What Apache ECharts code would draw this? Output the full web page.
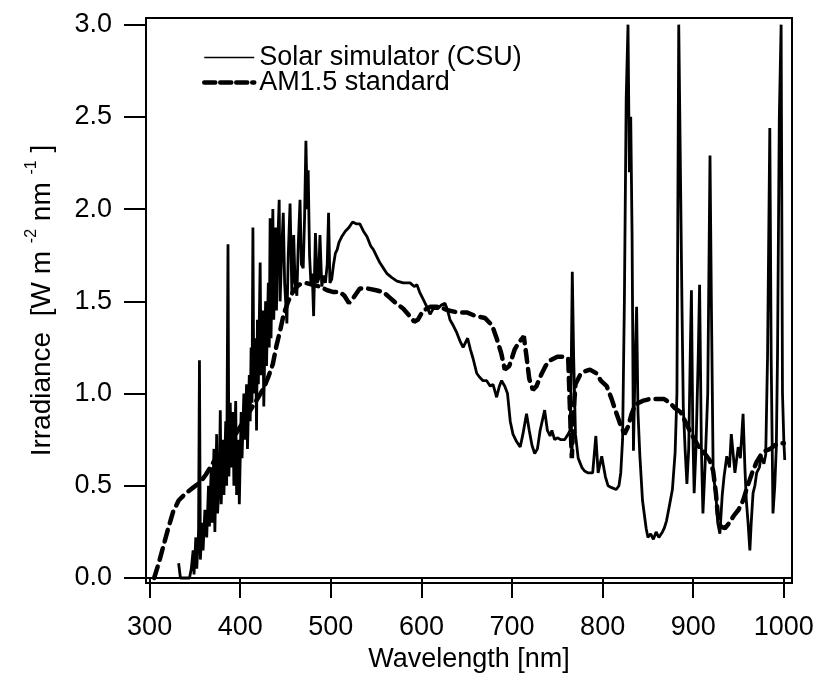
<!DOCTYPE html>
<html>
<head>
<meta charset="utf-8">
<script src="https://cdn.jsdelivr.net/npm/echarts@6/dist/echarts.min.js"></script>
<style>
html,body{margin:0;padding:0;background:#fff;}
#chart{width:817px;height:687px;}
</style>
</head>
<body>
<div id="chart"></div>
<script>
// CSU solar simulator spectrum
var csuWl = [332,334,336,340,344,346,348,349,351,352,354,355,356,358,359,361,363,365,366,368,369,371,372,374,375,377,378,379,381,382,384,385,386.5,387.5,389,390,392,393,395,396,398,399,401,402,404,405,407,408,410,411,412,413,414,415,417,418,419,420,422,423,425,426,428,429,431,432,433,434,436,437,439,440,441,443,444,446,447.5,449,451.5,453,455,457,459,460.5,462.5,464,466,467.5,469.5,471,472.5,474,475,476.5,478,479.5,481,483,485,486.5,488,490,492,494,496,497.5,499,501,503,505,507,509,512,516,520,524,528,532,536,540,544,547,551,554,558,562,567,573,580,587.5,592,595,598,602,606,609.5,613,618,622,626,629,631.5,635,639,643,646,651,654,657,661,664,668,672,676,679,683,686,688.5,692,695,698,701,705,709,712,716,719,722,725,728,731,736,739,742,744,747,750,754,758,762,764,765,766.5,768,770,773,777,780,784,789,792.5,795,799,803,806,810,815,818,820,822,824,826,828,829.5,831,832.5,834,836,837.5,839,841,844,848,850,853,856,859,862,866,868,870.5,874,877,880,882,884,886,887.5,889,891,893,895,897,898,899.5,901,903,905.5,907,909,910.7,913,916,918.5,920,922,925,927,929.4,932,934,937,940,942,946,949.6,952,955,957,958.6,960.5,962.5,964,966,968,970,973,975,978,980,982,984.5,986,988,990,991.7,993,995,997,998.5,1000,1001];
var csuIrr = [0.08,0.0,0.0,0.0,0.0,0.05,0.15,0.02,0.22,0.05,0.25,1.18,0.1,0.3,0.15,0.37,0.22,0.5,0.28,0.6,0.3,0.7,0.25,0.78,0.35,0.55,0.91,0.4,0.75,0.45,0.85,0.5,1.81,0.55,0.95,0.6,0.9,0.5,0.96,0.45,0.75,0.4,0.9,0.65,1.0,0.75,1.05,0.7,1.1,0.85,1.25,0.95,1.9,1.0,1.3,0.8,1.4,1.05,1.71,1.1,1.45,0.93,1.5,1.15,1.6,1.25,1.95,1.3,2.0,1.4,1.9,1.45,1.75,2.05,1.5,1.8,1.98,1.6,1.38,1.75,2.03,1.55,1.86,1.6,1.53,1.8,2.05,1.7,1.68,1.95,2.37,2.0,2.21,1.75,1.6,1.65,1.42,1.87,1.6,1.62,1.86,1.58,1.64,1.6,1.7,1.98,1.6,1.62,1.7,1.76,1.78,1.82,1.85,1.88,1.9,1.93,1.92,1.92,1.88,1.85,1.8,1.78,1.74,1.71,1.68,1.65,1.63,1.61,1.6,1.6,1.58,1.59,1.55,1.51,1.47,1.43,1.46,1.46,1.48,1.49,1.45,1.4,1.37,1.33,1.28,1.25,1.3,1.24,1.19,1.11,1.09,1.07,1.07,1.04,1.05,0.98,1.04,1.07,1.04,1.0,0.85,0.78,0.74,0.71,0.78,0.89,0.8,0.72,0.675,0.7,0.8,0.91,0.8,0.77,0.8,0.75,0.76,0.75,0.75,0.78,0.8,1.0,1.66,1.2,0.78,0.65,0.6,0.58,0.57,0.57,0.77,0.57,0.66,0.55,0.5,0.49,0.48,0.5,0.57,0.75,1.5,2.6,3.0,2.2,2.5,1.85,0.69,1.2,1.47,0.9,0.67,0.42,0.27,0.22,0.24,0.21,0.25,0.22,0.25,0.27,0.31,0.4,0.48,0.68,1.0,3.0,3.0,1.5,0.93,0.7,0.51,0.7,1.3,1.56,0.8,0.46,0.7,1.2,1.59,0.7,0.35,0.6,1.0,2.29,1.5,0.57,0.45,0.3,0.24,0.45,0.55,0.66,0.6,0.78,0.57,0.71,0.65,0.89,0.6,0.42,0.3,0.15,0.3,0.46,0.5,0.57,0.6,0.66,0.62,0.67,1.2,2.44,1.2,0.35,0.5,0.71,1.2,2.5,3.0,1.0,0.74,0.64];

// AM1.5 standard spectrum
var amWl = [305,310,315,320,326,332,340,348,356,362,367,372,380,390,400,410,420,426,431,436,440,444,448,453,459,465,472,480,488,496,503,510,515,520,525,532,540,550,558,565,572,580,587,592,596,602,610,620,630,640,650,660,670,678,683,688,692,697,703,708,713,716,719,723,727,732,737,742,750,757,762,764,766,768,770,775,780,786,793,798,804.5,810,814,819,824,828,832,836,844,852,860,868,874,880,886,892,898,905,912,918,922,925,927,930,935,940,945,950,955,960,965,970,975,980,985,990,995,1000];
var amIrr = [0.0,0.08,0.17,0.26,0.36,0.42,0.46,0.49,0.52,0.56,0.6,0.64,0.68,0.74,0.82,0.9,0.98,1.03,1.09,1.16,1.26,1.34,1.43,1.5,1.56,1.59,1.6,1.59,1.58,1.56,1.55,1.55,1.53,1.49,1.52,1.57,1.57,1.56,1.55,1.52,1.49,1.46,1.42,1.39,1.4,1.45,1.47,1.47,1.45,1.44,1.44,1.42,1.41,1.37,1.3,1.22,1.13,1.15,1.24,1.28,1.31,1.2,1.08,1.02,1.04,1.1,1.15,1.18,1.2,1.2,1.19,0.9,0.65,0.9,1.05,1.1,1.12,1.13,1.11,1.07,1.04,0.97,0.91,0.84,0.78,0.82,0.89,0.94,0.96,0.97,0.97,0.97,0.95,0.92,0.9,0.84,0.78,0.72,0.68,0.64,0.58,0.46,0.35,0.28,0.27,0.3,0.34,0.37,0.42,0.5,0.57,0.63,0.67,0.69,0.7,0.72,0.73,0.73];

var xTicks = [300,400,500,600,700,800,900,1000];
var yTicks = [0,0.5,1.0,1.5,2.0,2.5,3.0];

function toPairs(xs, ys){
	var out = [];
	for (var i = 0; i < xs.length; i++) {
		out.push([xs[i], ys[i]]);
	}
	return out;
}

var FONT = "'Liberation Sans', Arial, Helvetica, sans-serif";
var chart = echarts.init(document.getElementById('chart'));
var option = {
	animation: false,
	backgroundColor: '#fff',
	textStyle: { fontFamily: FONT, color: '#000' },
	grid: {
		left: 146, right: 25, top: 18, bottom: 104,
		show: true, borderColor: '#000', borderWidth: 2, backgroundColor: 'transparent'
	},
	legend: {
		orient: 'vertical',
		left: 202,
		top: 44,
		padding: 0,
		itemWidth: 50,
		itemHeight: 14,
		itemGap: -2,
		textStyle: { fontFamily: FONT, fontSize: 27, color: '#000', lineHeight: 24 },
		data: [
			{ name: 'Solar simulator (CSU)', itemStyle: { opacity: 0 }, lineStyle: { width: 1.3 } },
			{ name: 'AM1.5 standard', itemStyle: { opacity: 0 }, lineStyle: { width: 4.5, type: [11, 5] } }
		]
	},
	xAxis: {
		type: 'value',
		min: 296,
		max: 1009,
		name: 'Wavelength [nm]',
		nameLocation: 'middle',
		nameGap: 62,
		nameTextStyle: { fontFamily: FONT, fontSize: 27, color: '#000' },
		axisLine: { show: true, lineStyle: { color: '#000', width: 2 } },
		axisTick: { show: true, inside: false, length: 20, customValues: xTicks, lineStyle: { color: '#000', width: 2 } },
		axisLabel: {
			customValues: xTicks, margin: 31, fontSize: 27, color: '#000', fontFamily: FONT,
			formatter: function (v) { return String(v); }
		},
		splitLine: { show: false }
	},
	yAxis: {
		type: 'value',
		min: -0.027,
		max: 3.036,
		name: 'Irradiance  [W m {sup|-2} nm {sup|-1} ]',
		nameLocation: 'middle',
		nameGap: 86,
		nameTextStyle: {
			fontFamily: FONT, fontSize: 28, color: '#000', lineHeight: 36, verticalAlign: 'bottom',
			rich: {
				sup: { fontFamily: FONT, fontSize: 16, color: '#000', verticalAlign: 'top', lineHeight: 16 }
			}
		},
		axisLine: { show: true, lineStyle: { color: '#000', width: 2 } },
		axisTick: { show: true, inside: false, length: 22, customValues: yTicks, lineStyle: { color: '#000', width: 2 } },
		axisLabel: {
			customValues: yTicks, margin: 34, fontSize: 27, color: '#000', fontFamily: FONT,
			formatter: function (v) { return v.toFixed(1); }
		},
		splitLine: { show: false }
	},
	series: [
		{
			name: 'Solar simulator (CSU)',
			type: 'line',
			data: toPairs(csuWl, csuIrr),
			symbol: 'none',
			clip: true,
			lineStyle: { color: '#000', width: 2.8 },
			itemStyle: { color: '#000' },
			z: 3
		},
		{
			name: 'AM1.5 standard',
			type: 'line',
			data: toPairs(amWl, amIrr),
			symbol: 'none',
			clip: true,
			lineStyle: { color: '#000', width: 4.5, type: [12, 7], cap: 'round' },
			itemStyle: { color: '#000' },
			z: 2
		}
	]
};
chart.setOption(option);
</script>
</body>
</html>
